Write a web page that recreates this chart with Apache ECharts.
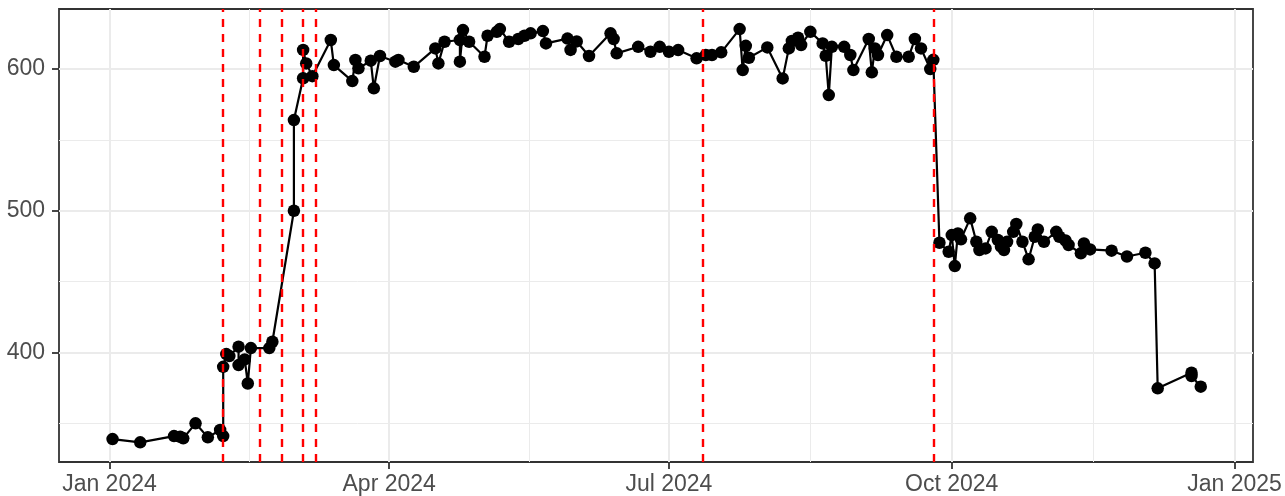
<!DOCTYPE html>
<html>
<head>
<meta charset="utf-8">
<script src="https://cdn.jsdelivr.net/npm/echarts@6/dist/echarts.min.js"></script>
<style>
  html, body { margin: 0; padding: 0; background: #fff; }
  #chart { width: 1285px; height: 496px; }
</style>
</head>
<body>
<div id="chart"></div>
<script>
// ---- data ----
const dates = [
  '2024-01-02','2024-01-11','2024-01-22','2024-01-24','2024-01-25','2024-01-29','2024-02-02','2024-02-06',
  '2024-02-07','2024-02-07','2024-02-08','2024-02-09','2024-02-12','2024-02-12','2024-02-14','2024-02-15',
  '2024-02-16','2024-02-22','2024-02-23','2024-03-01','2024-03-01','2024-03-04','2024-03-04','2024-03-05',
  '2024-03-07','2024-03-13','2024-03-14','2024-03-20','2024-03-21','2024-03-22','2024-03-26','2024-03-27',
  '2024-03-29','2024-04-03','2024-04-04','2024-04-09','2024-04-16','2024-04-17','2024-04-19','2024-04-24',
  '2024-04-24','2024-04-25','2024-04-27','2024-05-02','2024-05-03','2024-05-06','2024-05-07','2024-05-10',
  '2024-05-13','2024-05-15','2024-05-17','2024-05-21','2024-05-22','2024-05-29','2024-05-30','2024-06-01',
  '2024-06-05','2024-06-12','2024-06-13','2024-06-14','2024-06-21','2024-06-25','2024-06-28','2024-07-01',
  '2024-07-04','2024-07-10','2024-07-13','2024-07-15','2024-07-18','2024-07-24','2024-07-25','2024-07-26',
  '2024-07-27','2024-08-02','2024-08-07','2024-08-09','2024-08-10','2024-08-12','2024-08-13','2024-08-16',
  '2024-08-20','2024-08-21','2024-08-22','2024-08-23','2024-08-27','2024-08-29','2024-08-30','2024-09-04',
  '2024-09-05','2024-09-06','2024-09-07','2024-09-10','2024-09-13','2024-09-17','2024-09-19','2024-09-21',
  '2024-09-24','2024-09-25','2024-09-27','2024-09-30','2024-10-01','2024-10-02','2024-10-03','2024-10-04',
  '2024-10-07','2024-10-09','2024-10-10','2024-10-12','2024-10-14','2024-10-16','2024-10-17','2024-10-18',
  '2024-10-19','2024-10-21','2024-10-22','2024-10-24','2024-10-26','2024-10-28','2024-10-29','2024-10-31',
  '2024-11-04','2024-11-05','2024-11-07','2024-11-08','2024-11-12','2024-11-13','2024-11-15','2024-11-22',
  '2024-11-27','2024-12-03','2024-12-06','2024-12-07','2024-12-18','2024-12-18','2024-12-21'
];
const values = [
  338.8,336.5,340.9,340.4,339.3,349.9,340.0,345.2,
  340.9,389.8,398.8,397.4,404.0,391.0,395.0,378.0,
  403.0,403.0,407.5,500.0,564.0,593.5,613.5,604.0,
  595.0,620.5,602.8,591.5,606.4,600.5,605.9,586.4,
  609.2,605.2,606.4,601.6,614.6,604.0,619.3,620.5,
  605.2,627.5,619.3,608.7,623.5,626.3,628.2,619.3,
  621.2,623.5,625.2,626.8,618.1,621.5,613.5,619.5,
  609.2,625.2,621.2,611.1,615.7,612.2,615.7,612.2,
  613.4,607.6,609.9,609.9,611.8,628.2,599.3,616.4,
  608.0,615.3,593.4,614.6,619.8,622.1,617.0,626.3,
  618.1,609.4,581.6,615.7,615.7,609.9,599.3,621.2,
  597.7,614.6,609.9,624.0,608.7,608.7,621.2,614.6,
  600.0,606.5,477.4,471.0,482.8,460.9,484.0,479.8,
  494.6,478.1,472.2,473.4,485.1,479.3,474.6,472.2,
  478.0,485.1,490.6,478.1,465.7,481.6,486.8,478.1,
  485.1,481.6,479.0,475.8,469.9,476.9,472.7,471.8,
  467.7,470.3,462.8,374.6,385.6,383.3,375.8
];
const eventDates = ['2024-02-07','2024-02-19','2024-02-26','2024-03-04','2024-03-08','2024-07-12','2024-09-25'];
const xMajorTicks = ['2024-01-01','2024-04-01','2024-07-01','2024-10-01','2025-01-01'];
const xMajorLabels = ['Jan 2024','Apr 2024','Jul 2024','Oct 2024','Jan 2025'];
const xMinorTicks = ['2024-02-15 12:00','2024-05-16 12:00','2024-08-16 00:00','2024-11-16 00:00'];
const yMajorTicks = [400, 500, 600];
const yMinorTicks = [350, 450, 550];
const xRange = ['2023-12-15 14:00', '2025-01-07 00:00'];
const yRange = [322.6, 642.4];

// ---- helpers ----
function ts(s) {
  const [d, t] = s.split(' ');
  const [Y, M, D] = d.split('-').map(Number);
  let h = 0, m = 0;
  if (t) { [h, m] = t.split(':').map(Number); }
  return Date.UTC(Y, M - 1, D, h, m);
}
const seriesData = dates.map((d, i) => [ts(d), values[i]]);
const majorTs = xMajorTicks.map(ts);
const minorTs = xMinorTicks.map(ts);
const labelMap = {};
majorTs.forEach((t, i) => { labelMap[t] = xMajorLabels[i]; });

const font = 'Liberation Sans, Arial, sans-serif';
const textColor = '#4D4D4D';

const chart = echarts.init(document.getElementById('chart'), null, { renderer: 'canvas' });
chart.setOption({
  animation: false,
  backgroundColor: '#ffffff',
  grid: {
    left: 59, right: 32, top: 9, bottom: 34,
    show: true, borderColor: '#333333', borderWidth: 1.8, backgroundColor: 'transparent',
    containLabel: false
  },
  xAxis: [
    {
      type: 'value',
      min: ts(xRange[0]), max: ts(xRange[1]),
      axisLine: { show: false },
      axisTick: { show: true, length: 7, lineStyle: { color: '#333333', width: 1.8 }, customValues: majorTs },
      axisLabel: {
        show: true, customValues: majorTs, margin: 11,
        color: textColor, fontSize: 23, fontFamily: font,
        formatter: function (v) { return labelMap[v] || ''; },
        showMinLabel: true, showMaxLabel: true
      },
      splitLine: { show: true, lineStyle: { color: '#EBEBEB', width: 2 } }
    },
    {
      type: 'value',
      position: 'bottom',
      min: ts(xRange[0]), max: ts(xRange[1]),
      axisLine: { show: false },
      axisTick: { show: false, customValues: minorTs },
      axisLabel: { show: false, customValues: minorTs },
      splitLine: { show: true, lineStyle: { color: '#EBEBEB', width: 1 } }
    }
  ],
  yAxis: [
    {
      type: 'value',
      min: yRange[0], max: yRange[1],
      axisLine: { show: false },
      axisTick: { show: true, length: 7, lineStyle: { color: '#333333', width: 1.8 }, customValues: yMajorTicks },
      axisLabel: {
        show: true, customValues: yMajorTicks, margin: 14,
        color: textColor, fontSize: 23, fontFamily: font
      },
      splitLine: { show: true, lineStyle: { color: '#EBEBEB', width: 2 } }
    },
    {
      type: 'value',
      position: 'left',
      min: yRange[0], max: yRange[1],
      axisLine: { show: false },
      axisTick: { show: false, customValues: yMinorTicks },
      axisLabel: { show: false, customValues: yMinorTicks },
      splitLine: { show: true, lineStyle: { color: '#EBEBEB', width: 1 } }
    }
  ],
  series: [
    {
      type: 'line',
      xAxisIndex: 0, yAxisIndex: 0,
      data: seriesData,
      symbol: 'circle',
      symbolSize: 12.5,
      showAllSymbol: true,
      itemStyle: { color: '#000000' },
      lineStyle: { color: '#000000', width: 2.2 },
      markLine: {
        silent: true,
        symbol: ['none', 'none'],
        label: { show: false },
        z: 10,
        lineStyle: { color: '#FF0000', width: 2.4, type: [8, 7] },
        data: eventDates.map(d => ({ xAxis: ts(d) }))
      }
    }
  ]
});
</script>
</body>
</html>
